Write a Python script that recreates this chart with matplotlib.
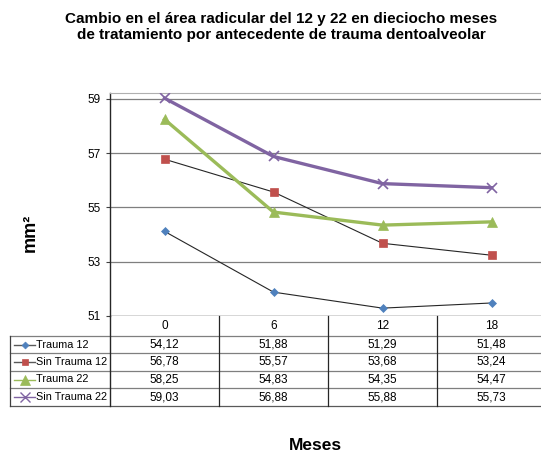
import matplotlib.pyplot as plt
from matplotlib.lines import Line2D

plt.rcParams['font.family'] = ['Liberation Sans', 'DejaVu Sans']

# datos
meses = ['0', '6', '12', '18']
series = ['Trauma 12', 'Sin Trauma 12', 'Trauma 22', 'Sin Trauma 22']
trauma_12 = [54.12, 51.88, 51.29, 51.48]
sin_trauma_12 = [56.78, 55.57, 53.68, 53.24]
trauma_22 = [58.25, 54.83, 54.35, 54.47]
sin_trauma_22 = [59.03, 56.88, 55.88, 55.73]
valores = [trauma_12, sin_trauma_12, trauma_22, sin_trauma_22]

# estilos tipo Excel
marcadores = ['D', 's', '^', 'x']
col_marcador = ['#4F81BD', '#C0504D', '#9BBB59', '#8064A2']
col_linea = ['#262626', '#262626', '#9BBB59', '#8064A2']
grosor = [0.8, 0.8, 2.4, 2.4]
tam = [4, 5.5, 7, 7]

W, H = 541, 455
fig = plt.figure(figsize=(W / 100, H / 100), dpi=100)

# ejes en pixeles: izq 110, der 546, arriba 93, abajo 316
ax_l, ax_r, ax_t, ax_b = 110, 546, 93, 316
ax = fig.add_axes([ax_l / W, (H - ax_b) / H, (ax_r - ax_l) / W, (ax_b - ax_t) / H])

x = list(range(len(meses)))
for i, v in enumerate(valores):
    ax.plot(x, v, color=col_linea[i], lw=grosor[i], zorder=3)
    ax.plot(x, v, linestyle='none', marker=marcadores[i], color=col_marcador[i],
            markersize=tam[i], markeredgewidth=1.2 if marcadores[i] == 'x' else 0.5,
            zorder=4)

ax.set_xlim(-0.5, 3.5)
ax.set_ylim(51, 59.22)
ax.set_yticks([51, 53, 55, 57, 59])
ax.set_yticklabels(['51', '53', '55', '57', '59'], fontsize=8.5)
ax.set_xticks([])
ax.tick_params(axis='y', length=3, width=0.8, color='#404040', pad=4)
for yv in [53, 55, 57, 59]:
    ax.axhline(yv, color='#7f7f7f', lw=0.9, zorder=1)
ax.axhline(51, color='#d0d0d0', lw=1.2, zorder=1)
ax.spines['right'].set_visible(False)
ax.spines['top'].set_color('#b0b0b0')
ax.spines['bottom'].set_visible(False)
ax.spines['left'].set_color('#262626')
ax.spines['left'].set_linewidth(1.0)

# tabla de datos (coordenadas en pixeles -> fraccion de ejes)
def fx(px):
    return (px - ax_l) / (ax_r - ax_l)

def fy(py):
    return (ax_b - py) / (ax_b - ax_t)

filas = [316, 336, 353, 371, 388, 406]
col_ancho = (ax_r - ax_l) / len(meses)
tr = ax.transAxes
kw = dict(transform=tr, clip_on=False)

# lineas horizontales
for py in filas[1:-1]:
    ax.add_line(Line2D([fx(10), 1], [fy(py)] * 2, color='#7f7f7f', lw=0.9, **kw))
ax.add_line(Line2D([fx(10), 1], [fy(filas[-1])] * 2, color='#595959', lw=0.9, **kw))
# lineas verticales
ax.add_line(Line2D([0, 0], [0, fy(filas[-1])], color='#262626', lw=1.0, **kw))
ax.add_line(Line2D([fx(10), fx(10)], [fy(filas[1]), fy(filas[-1])], color='#404040', lw=0.9, **kw))
for j in range(1, len(meses)):
    xp = ax_l + j * col_ancho
    ax.add_line(Line2D([fx(xp)] * 2, [0, fy(filas[-1])], color='#262626', lw=0.9, **kw))

# encabezados de meses
for j, m in enumerate(meses):
    ax.text(j, fy((filas[0] + filas[1]) / 2), m, ha='center', va='center',
            fontsize=8.5, transform=ax.get_xaxis_transform(), clip_on=False)

# filas con leyenda y valores
for i, nombre in enumerate(series):
    yc = fy((filas[i + 1] + filas[i + 2]) / 2)
    ax.add_line(Line2D([fx(14), fx(35)], [yc, yc], color=col_linea[i] if i >= 2 else '#595959',
                       lw=1.0, **kw))
    ax.add_line(Line2D([fx(24.5)], [yc], marker=marcadores[i], color=col_marcador[i],
                       markersize=tam[i] - 0.5,
                       markeredgewidth=1.0 if marcadores[i] == 'x' else 0.5, **kw))
    ax.text(fx(36), yc, nombre, ha='left', va='center', fontsize=7.8, **kw)
    for j, v in enumerate(valores[i]):
        ax.text(j, yc, f'{v:.2f}'.replace('.', ','), ha='center', va='center',
                fontsize=8.5, transform=ax.get_xaxis_transform(), clip_on=False)

# textos
fig.text(281 / W, 1 - 27 / H,
         'Cambio en el área radicular del 12 y 22 en dieciocho meses\n'
         'de tratamiento por antecedente de trauma dentoalveolar',
         ha='center', va='center', fontsize=11, fontweight='bold', linespacing=1.1)
fig.text(30 / W, 1 - 233 / H, 'mm²', rotation=90, ha='center', va='center',
         fontsize=13, fontweight='bold')
fig.text(315 / W, 1 - 446 / H, 'Meses', ha='center', va='center',
         fontsize=12.5, fontweight='bold')

plt.savefig('out.png', dpi=100)
plt.close()
